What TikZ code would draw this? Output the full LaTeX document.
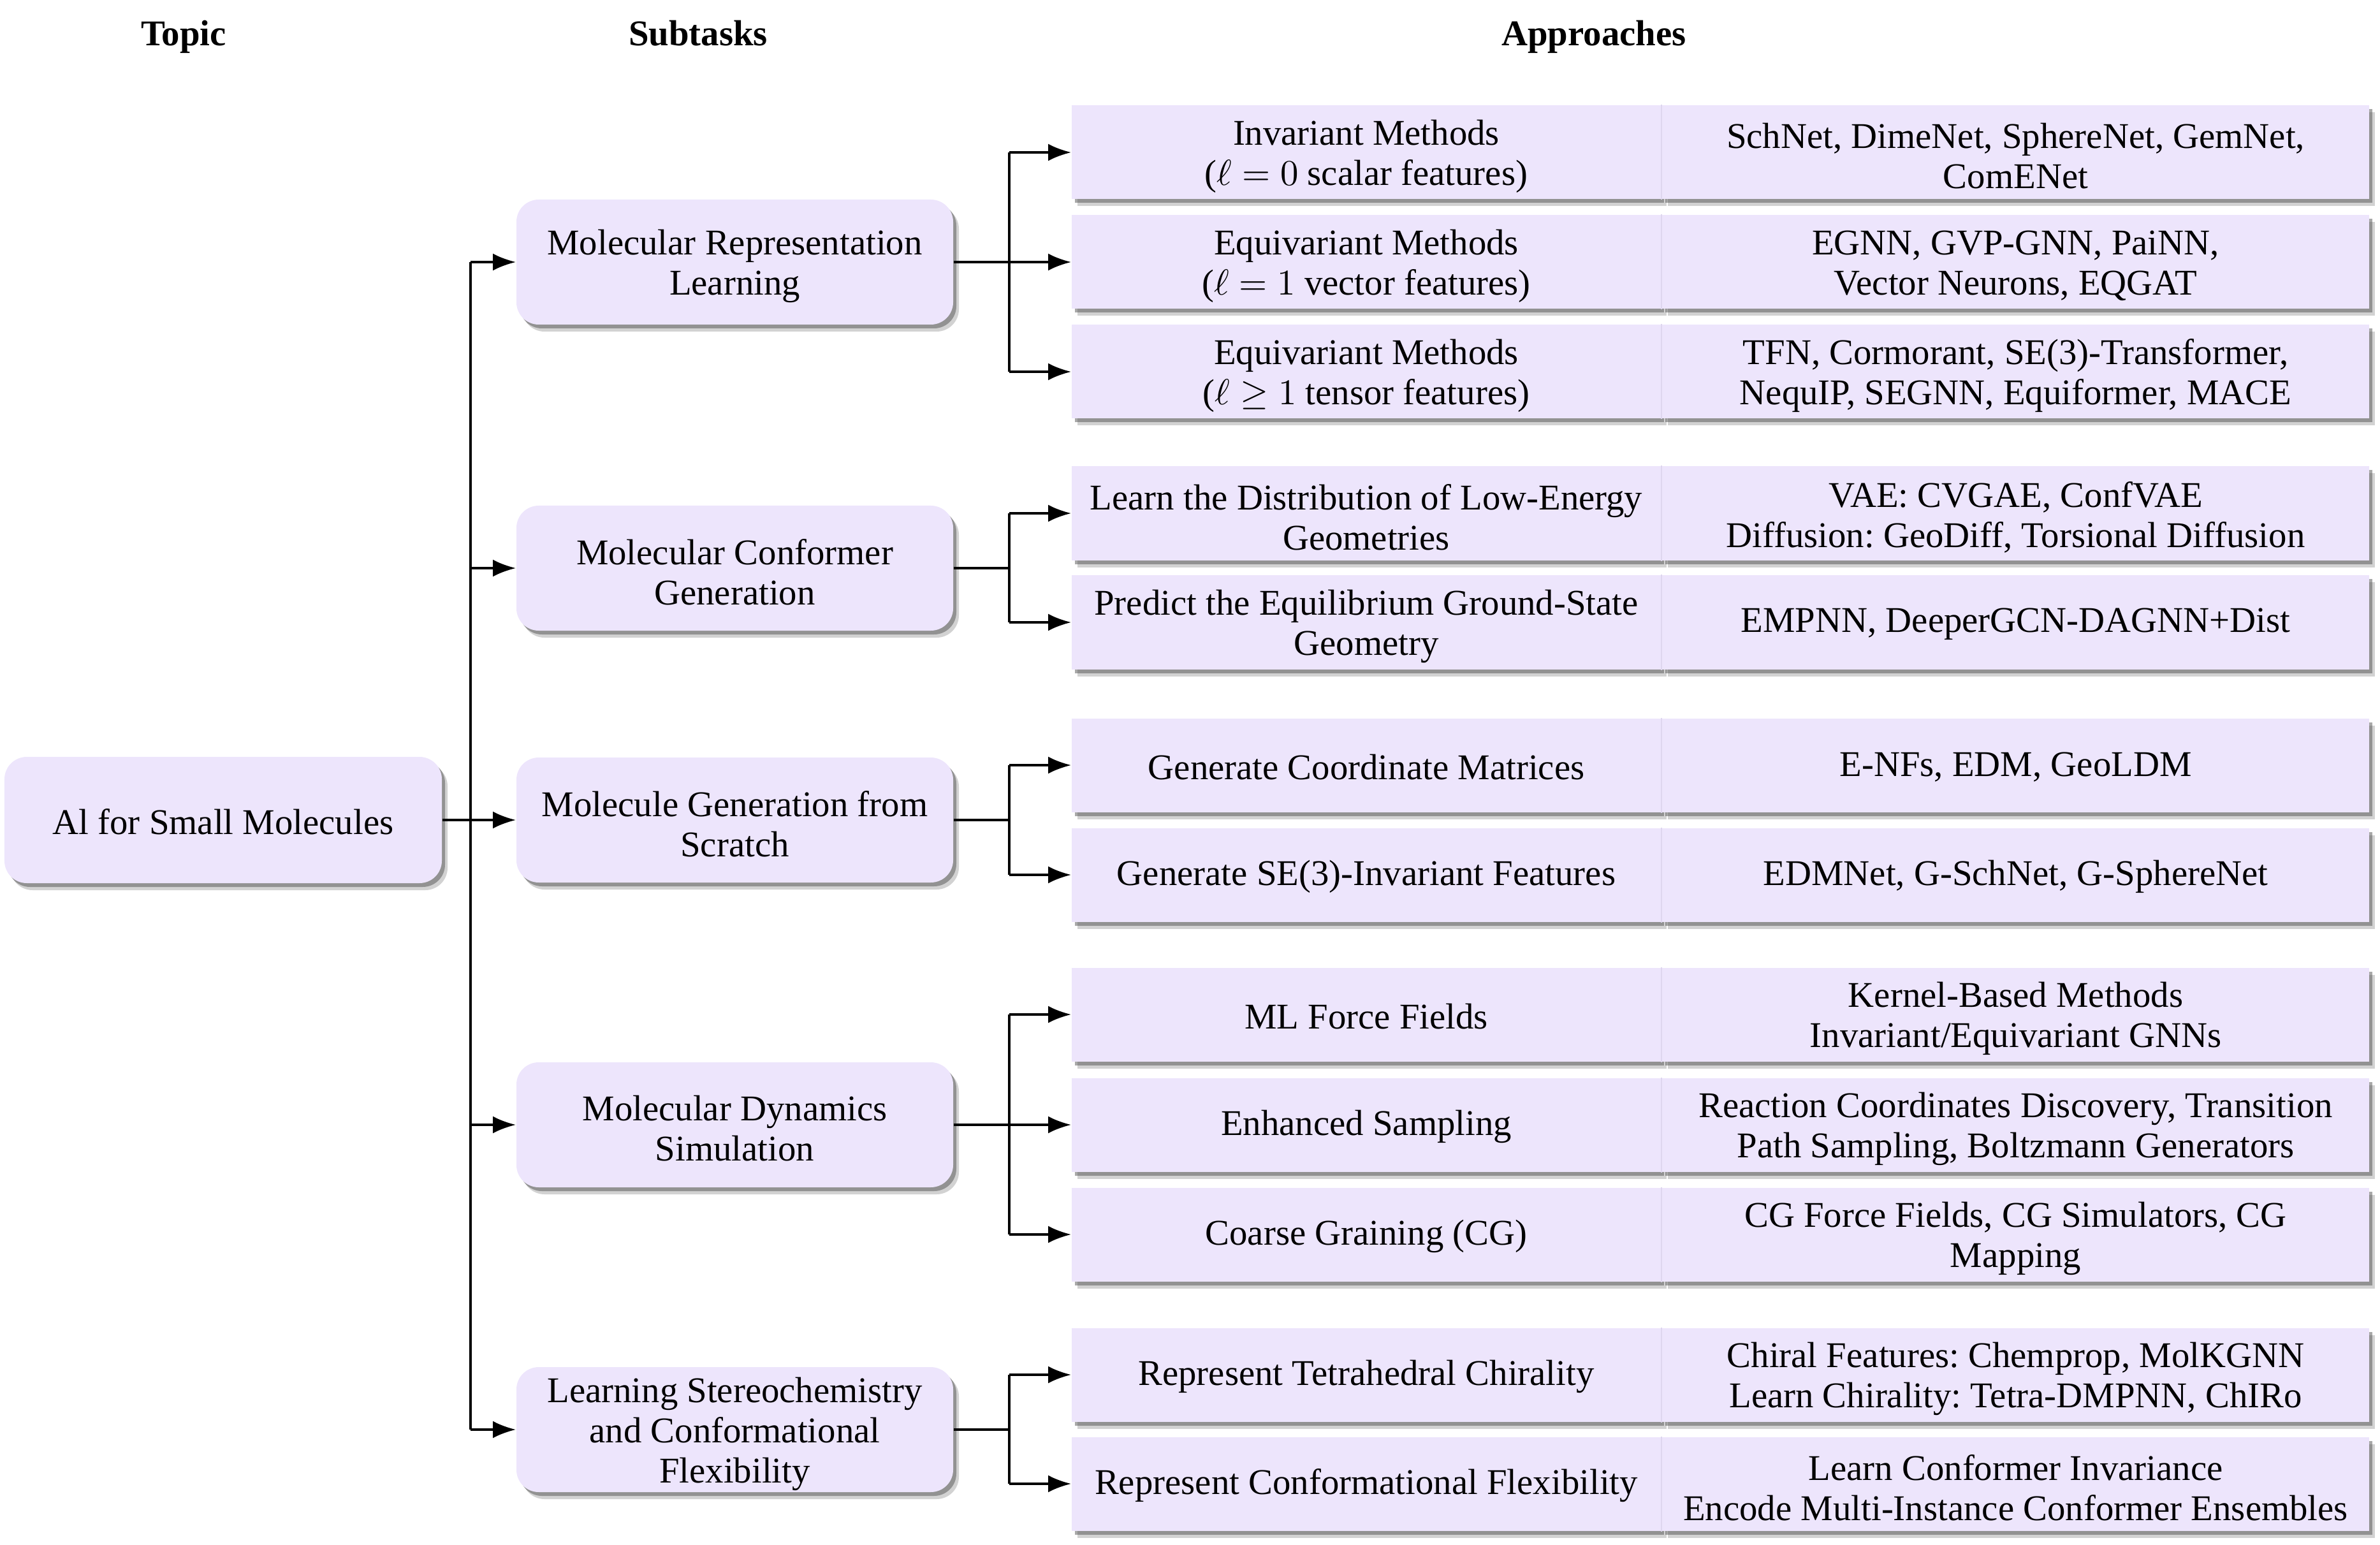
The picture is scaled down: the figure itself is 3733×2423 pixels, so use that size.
\documentclass[tikz,border=0pt]{standalone}
\usepackage{fix-cm}
\usepackage{fontspec}
\setmainfont{Liberation Serif}
\frenchspacing
\usetikzlibrary{arrows.meta,shadows}
\definecolor{boxfill}{RGB}{237,229,252}
\definecolor{divline}{RGB}{222,214,238}
\tikzset{
  txt/.style={font=\fontsize{11.36}{12.6}\selectfont},
  base/.style={fill=boxfill, draw=none, inner sep=0pt,
    drop shadow={shadow xshift=1.0pt, shadow yshift=-1.2pt, opacity=0.45, fill=black!75},
    drop shadow={shadow xshift=1.8pt, shadow yshift=-2.2pt, opacity=0.25, fill=black!70}},
  one/.style={txt, align=center, inner sep=0pt, yshift=-0.6pt},
  two/.style={txt, align=center, inner sep=0pt, yshift=-1.2pt},
  three/.style={txt, align=center, inner sep=0pt, yshift=-1.4pt},
  topicbox/.style={base, rounded corners=7pt, minimum width=137.2pt, minimum height=39.6pt},
  subbox/.style={base, rounded corners=7pt, minimum width=137pt, minimum height=39.2pt},
  methbox/.style={base, minimum width=184.8pt, minimum height=29.4pt},
  apprbox/.style={base, minimum width=221.8pt, minimum height=29.4pt, anchor=west},
  hdr/.style={font=\fontsize{11.36}{12.6}\selectfont\bfseries, anchor=base, inner sep=0pt},
  conn/.style={line width=0.7pt},
  arr/.style={conn, -{Latex[length=7.2pt,width=5.4pt]}},
  divl/.style={draw=divline, line width=0.4pt},
}
\begin{document}
\begin{tikzpicture}[x=0.2pt,y=-0.2pt]
\path[use as bounding box] (0,0) rectangle (3733,2423);

% headers
\node[hdr] (h1) at (288,72) {Topic};
\node[hdr] (h2) at (1095,72) {Subtasks};
\node[hdr] (h3) at (2500,72) {Approaches};

% topic
\node[topicbox, label={[one]center:{Al for Small Molecules}}] (topic) at (350,1286) {};

% subtasks
\node[subbox, label={[two]center:{Molecular Representation\\Learning}}] (s1) at (1152.5,411) {};
\node[subbox, label={[two]center:{Molecular Conformer\\Generation}}] (s2) at (1152.5,891) {};
\node[subbox, label={[two]center:{Molecule Generation from\\Scratch}}] (s3) at (1152.5,1286) {};
\node[subbox, label={[two]center:{Molecular Dynamics\\Simulation}}] (s4) at (1152.5,1764) {};
\node[subbox, label={[three]center:{Learning Stereochemistry\\and Conformational\\Flexibility}}] (s5) at (1152.5,2242) {};

% approach rows
\node[methbox, label={[two]center:{Invariant Methods\\($\ell = 0$ scalar features)}}] (m1) at (2143,239) {};
\node[apprbox, label={[two]center:{SchNet, DimeNet, SphereNet, GemNet,\\ComENet}}] (a1) at (m1.east) {};
\node[methbox, label={[two]center:{Equivariant Methods\\($\ell = 1$ vector features)}}] (m2) at (2143,411) {};
\node[apprbox, label={[two]center:{EGNN, GVP-GNN, PaiNN,\\Vector Neurons, EQGAT}}] (a2) at (m2.east) {};
\node[methbox, label={[two]center:{Equivariant Methods\\($\ell \geq 1$ tensor features)}}] (m3) at (2143,583) {};
\node[apprbox, label={[two]center:{TFN, Cormorant, SE(3)-Transformer,\\NequIP, SEGNN, Equiformer, MACE}}] (a3) at (m3.east) {};

\node[methbox, label={[two]center:{Learn the Distribution of Low-Energy\\Geometries}}] (m4) at (2143,805) {};
\node[apprbox, label={[two]center:{VAE: CVGAE, ConfVAE\\Diffusion: GeoDiff, Torsional Diffusion}}] (a4) at (m4.east) {};
\node[methbox, label={[two]center:{Predict the Equilibrium Ground-State\\Geometry}}] (m5) at (2143,976) {};
\node[apprbox, label={[one]center:{EMPNN, DeeperGCN-DAGNN+Dist}}] (a5) at (m5.east) {};

\node[methbox, label={[one]center:{Generate Coordinate Matrices}}] (m6) at (2143,1200) {};
\node[apprbox, label={[one]center:{E-NFs, EDM, GeoLDM}}] (a6) at (m6.east) {};
\node[methbox, label={[one]center:{Generate SE(3)-Invariant Features}}] (m7) at (2143,1372) {};
\node[apprbox, label={[one]center:{EDMNet, G-SchNet, G-SphereNet}}] (a7) at (m7.east) {};

\node[methbox, label={[one]center:{ML Force Fields}}] (m8) at (2143,1591) {};
\node[apprbox, label={[two]center:{Kernel-Based Methods\\Invariant/Equivariant GNNs}}] (a8) at (m8.east) {};
\node[methbox, label={[one]center:{Enhanced Sampling}}] (m9) at (2143,1764) {};
\node[apprbox, label={[two]center:{Reaction Coordinates Discovery, Transition\\Path Sampling, Boltzmann Generators}}] (a9) at (m9.east) {};
\node[methbox, label={[one]center:{Coarse Graining (CG)}}] (m10) at (2143,1936) {};
\node[apprbox, label={[two]center:{CG Force Fields, CG Simulators, CG\\Mapping}}] (a10) at (m10.east) {};

\node[methbox, label={[one]center:{Represent Tetrahedral Chirality}}] (m11) at (2143,2156) {};
\node[apprbox, label={[two]center:{Chiral Features: Chemprop, MolKGNN\\Learn Chirality: Tetra-DMPNN, ChIRo}}] (a11) at (m11.east) {};
\node[methbox, label={[one]center:{Represent Conformational Flexibility}}] (m12) at (2143,2327) {};
\node[apprbox, label={[two]center:{Learn Conformer Invariance\\Encode Multi-Instance Conformer Ensembles}}] (a12) at (m12.east) {};

% dividers
\foreach \i in {1,...,12} {
  \draw[divl] (m\i.north east) -- (m\i.south east);
}

% trunk from topic
\coordinate (tk) at (738,1286);
\draw[conn] (topic.east) -- (tk);
\draw[conn] (s1.west -| tk) -- (s5.west -| tk);
\foreach \i in {1,...,5} {
  \draw[arr] (s\i.west -| tk) -- (s\i.west);
}

% branches
\coordinate (bx) at (1583,0);
\draw[conn] (s1.east) -- (s1.east -| bx);
\draw[conn] (m1.west -| bx) -- (m3.west -| bx);
\foreach \i in {1,2,3} { \draw[arr] (m\i.west -| bx) -- (m\i.west); }

\draw[conn] (s2.east) -- (s2.east -| bx);
\draw[conn] (m4.west -| bx) -- (m5.west -| bx);
\foreach \i in {4,5} { \draw[arr] (m\i.west -| bx) -- (m\i.west); }

\draw[conn] (s3.east) -- (s3.east -| bx);
\draw[conn] (m6.west -| bx) -- (m7.west -| bx);
\foreach \i in {6,7} { \draw[arr] (m\i.west -| bx) -- (m\i.west); }

\draw[conn] (s4.east) -- (s4.east -| bx);
\draw[conn] (m8.west -| bx) -- (m10.west -| bx);
\foreach \i in {8,9,10} { \draw[arr] (m\i.west -| bx) -- (m\i.west); }

\draw[conn] (s5.east) -- (s5.east -| bx);
\draw[conn] (m11.west -| bx) -- (m12.west -| bx);
\foreach \i in {11,12} { \draw[arr] (m\i.west -| bx) -- (m\i.west); }
\end{tikzpicture}
\end{document}
